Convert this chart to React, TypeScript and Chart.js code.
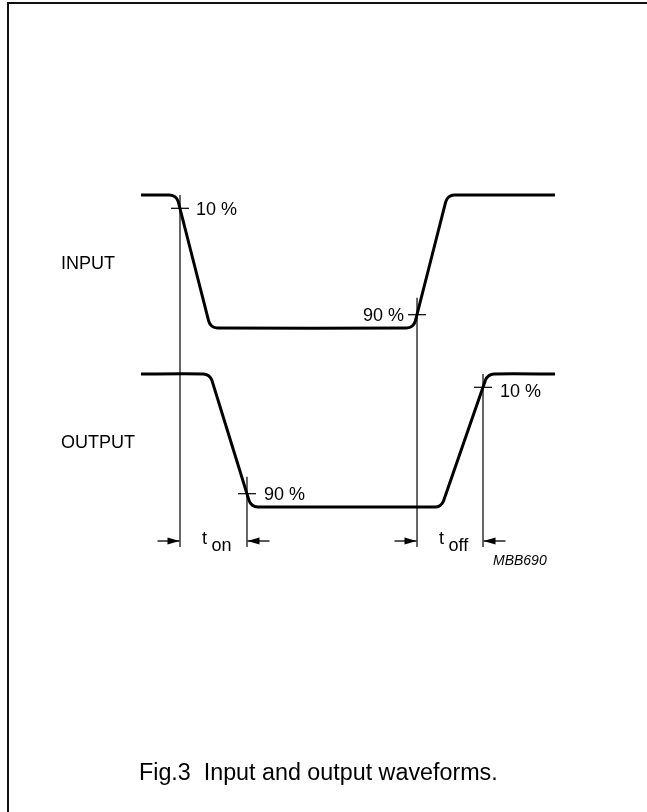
import React, { useEffect, useRef } from "react";
import { Chart, registerables } from "chart.js";

Chart.register(...registerables);

// ---- data (time in arbitrary units 0..100, level as fraction of the swing) ----
// points read along each edge, including the start, middle and end of every rounded corner
const INPUT_T = [0, 6.91, 8.24, 9.01, 16.35, 17.13, 18.45, 64.15, 65.48, 66.26, 73.6, 74.37, 75.7, 100];
const INPUT_V = [1, 1, 0.986, 0.949, 0.051, 0.014, 0, 0, 0.014, 0.051, 0.949, 0.986, 1, 1];
const OUTPUT_T = [0, 15.05, 16.33, 17.13, 26.11, 26.91, 28.19, 71.01, 72.27, 73.07, 83.21, 84.01, 85.27, 100];
const OUTPUT_V = [1, 1, 0.987, 0.952, 0.048, 0.013, 0, 0, 0.012, 0.045, 0.955, 0.987, 1, 1];

const WAVE_LABELS = ["INPUT", "OUTPUT"];
const MARKER_LABELS = ["10 %", "90 %", "90 %", "10 %"];
const MARKER_WAVES = ["input", "input", "output", "output"];
const MARKER_T = [9.42, 66.67, 25.6, 82.61];
const MARKER_V = [0.9, 0.1, 0.1, 0.9];
const TIMING_LABELS = [
  { main: "t", sub: "on" },
  { main: "t", sub: "off" },
];
const CODE_LABEL = "MBB690";
const CAPTION = "Fig.3  Input and output waveforms.";

// ---- styling ----
const W = 647;
const H = 812;
const PAD = { left: 141, right: 92, top: 195, bottom: 305 };
const SWING_PX = 133;
const SPAN = (H - PAD.top - PAD.bottom) / SWING_PX;
const FONT = '"Liberation Sans", Arial, Helvetica, sans-serif';
// label placement per marker: side, dx, dy (px)
const LABEL_STYLE = [
  { side: "right", dx: 16, dy: 7 },
  { side: "left", dx: -13, dy: 6 },
  { side: "right", dx: 17, dy: 6 },
  { side: "right", dx: 17, dy: 10 },
];

const annotations = {
  id: "waveAnnotations",
  afterDatasetsDraw(chart: any) {
    const ctx = chart.ctx as CanvasRenderingContext2D;
    const xs = chart.scales.x;
    const axes: any = { input: chart.scales.yIn, output: chart.scales.yOut };
    const arrowY = 541;
    const lineBottom = 547;
    ctx.save();
    ctx.strokeStyle = "#000";
    ctx.fillStyle = "#000";

    const crossings = MARKER_T.map((t, i) => {
      const ax = axes[MARKER_WAVES[i]];
      return {
        x: xs.getPixelForValue(t),
        y: ax.getPixelForValue(MARKER_V[i]),
        high: ax.getPixelForValue(1),
      };
    });

    // vertical reference lines and ticks
    ctx.lineWidth = 1.2;
    crossings.forEach((c) => {
      const top = Math.max(c.y - 17, c.high);
      ctx.beginPath();
      ctx.moveTo(c.x, top);
      ctx.lineTo(c.x, lineBottom);
      ctx.stroke();
      ctx.beginPath();
      ctx.moveTo(c.x - 9, c.y);
      ctx.lineTo(c.x + 9, c.y);
      ctx.stroke();
    });

    // marker labels
    ctx.font = `18px ${FONT}`;
    ctx.textBaseline = "alphabetic";
    crossings.forEach((c, i) => {
      const st = LABEL_STYLE[i];
      ctx.textAlign = st.side === "left" ? "right" : "left";
      ctx.fillText(MARKER_LABELS[i], c.x + st.dx, c.y + st.dy);
    });

    // timing arrows: pairs (input fall, output fall) and (input rise, output rise)
    const pairs = [
      [crossings[0].x, crossings[2].x],
      [crossings[1].x, crossings[3].x],
    ];
    const arrow = (tip: number, dir: number) => {
      const tail = tip - dir * 22;
      ctx.lineWidth = 1.3;
      ctx.beginPath();
      ctx.moveTo(tail, arrowY);
      ctx.lineTo(tip, arrowY);
      ctx.stroke();
      ctx.beginPath();
      ctx.moveTo(tip, arrowY);
      ctx.lineTo(tip - dir * 12, arrowY - 3.5);
      ctx.lineTo(tip - dir * 12, arrowY + 3.5);
      ctx.closePath();
      ctx.fill();
    };
    pairs.forEach(([a, b], i) => {
      arrow(a - 0.5, 1);
      arrow(b + 0.5, -1);
      ctx.textAlign = "left";
      ctx.font = `18px ${FONT}`;
      ctx.fillText(TIMING_LABELS[i].main, a + 22, arrowY + 3);
      ctx.fillText(TIMING_LABELS[i].sub, a + 31.5, arrowY + 10);
    });

    // wave names
    ctx.textAlign = "left";
    ctx.font = `18px ${FONT}`;
    const mids = [
      (chart.scales.yIn.getPixelForValue(1) + chart.scales.yIn.getPixelForValue(0)) / 2,
      (chart.scales.yOut.getPixelForValue(1) + chart.scales.yOut.getPixelForValue(0)) / 2,
    ];
    WAVE_LABELS.forEach((l, i) => ctx.fillText(l, 61, mids[i] + 7));

    // code label
    ctx.font = `italic 14px ${FONT}`;
    ctx.fillText(CODE_LABEL, xs.getPixelForValue(100) - 62, 565);

    // caption
    ctx.font = `23.3px ${FONT}`;
    ctx.fillText(CAPTION, 139, 780);
    ctx.restore();
  },
};

export default function App() {
  const ref = useRef<HTMLCanvasElement | null>(null);
  useEffect(() => {
    if (!ref.current) return;
    const mk = (T: number[], V: number[]) => T.map((t, i) => ({ x: t, y: V[i] }));
    const common = {
      borderColor: "#000",
      borderWidth: 3,
      pointRadius: 0,
      tension: 0.2,
      borderJoinStyle: "round" as const,
      clip: false as any,
      fill: false,
    };
    const chart = new Chart(ref.current, {
      type: "line",
      data: {
        datasets: [
          { ...common, label: "INPUT", data: mk(INPUT_T, INPUT_V), yAxisID: "yIn" },
          { ...common, label: "OUTPUT", data: mk(OUTPUT_T, OUTPUT_V), yAxisID: "yOut" },
        ],
      },
      options: {
        responsive: false,
        animation: false,
        layout: { padding: PAD },
        plugins: { legend: { display: false }, tooltip: { enabled: false } },
        events: [],
        scales: {
          x: { type: "linear", min: 0, max: 100, display: false },
          yIn: { type: "linear", min: 1 - SPAN, max: 1, display: false },
          yOut: { type: "linear", min: 0, max: SPAN, display: false },
        },
      },
      plugins: [annotations],
    });
    return () => chart.destroy();
  }, []);
  return (
    <div style={{ position: "absolute", left: 0, top: 0, width: W, height: H, background: "#fff", overflow: "hidden" }}>
      <div
        style={{
          position: "absolute",
          left: 7,
          top: 2,
          width: W,
          height: H,
          borderLeft: "2px solid #111",
          borderTop: "2px solid #111",
        }}
      />
      <canvas ref={ref} width={W} height={H} style={{ position: "absolute", left: 0, top: 0, width: W, height: H }} />
    </div>
  );
}
